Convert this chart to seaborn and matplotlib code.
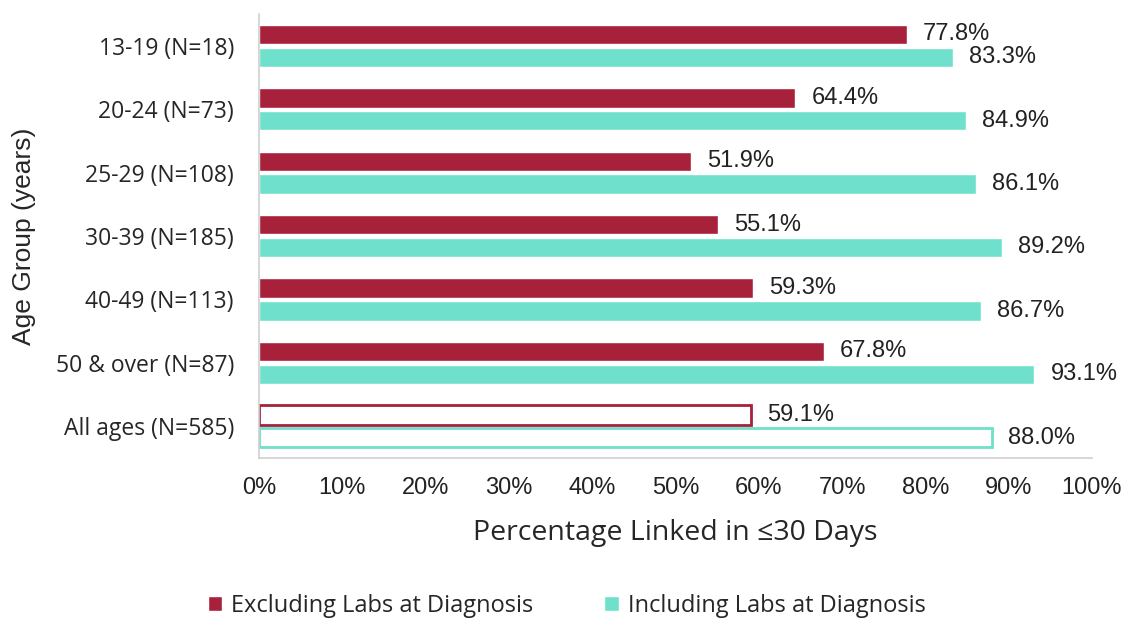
import pandas as pd
import seaborn as sns
import matplotlib.pyplot as plt

# data
age_groups = ['13-19 (N=18)', '20-24 (N=73)', '25-29 (N=108)', '30-39 (N=185)',
              '40-49 (N=113)', '50 & over (N=87)', 'All ages (N=585)']
excluding = [77.8, 64.4, 51.9, 55.1, 59.3, 67.8, 59.1]
including = [83.3, 84.9, 86.1, 89.2, 86.7, 93.1, 88.0]
series = ['Excluding Labs at Diagnosis', 'Including Labs at Diagnosis']
colors = ['#A8213A', '#6EE0CC']

df = pd.DataFrame({
    'group': age_groups * 2,
    'value': excluding + including,
    'series': [series[0]] * len(age_groups) + [series[1]] * len(age_groups),
})

sns.set_style('white')
plt.rcParams['font.family'] = ['Open Sans', 'DejaVu Sans']
arial = ['Liberation Sans', 'DejaVu Sans']

fig = plt.figure(figsize=(11.29, 6.18), dpi=100)
ax = fig.add_axes([0.2294, 0.259, 0.7378, 0.718])

sns.barplot(data=df, y='group', x='value', hue='series', palette=colors,
            saturation=1, orient='h', width=0.72, gap=0.15, ax=ax, legend=True)

# summary row drawn as outlined bars
for cont, col in zip(ax.containers, colors):
    last = cont.patches[-1]
    last.set_facecolor('white')
    last.set_edgecolor(col)
    last.set_linewidth(2)
    ax.bar_label(cont, fmt='%.1f%%', padding=11.5, fontsize=17,
                 color='#222222', family=arial)

ax.set_xlim(0, 100)
ax.set_ylim(6.5, -0.5)
ax.set_xticks(range(0, 101, 10))
ax.set_xticklabels([f'{t}%' for t in range(0, 101, 10)], fontsize=17,
                   family=arial, color='#222222')
ax.set_yticks(range(len(age_groups)))
ax.set_yticklabels(age_groups, fontsize=16.5)
ax.tick_params(axis='y', length=0, pad=18)
ax.tick_params(axis='x', length=7, width=1, color='#d0d0d0', direction='out', pad=7)
ax.set_xlabel('Percentage Linked in \u226430 Days', fontsize=20.5, va='center')
ax.xaxis.set_label_coords(0.5, -0.169)
ax.set_ylabel('Age Group (years)', fontsize=19, va='center', family=arial)
ax.yaxis.set_label_coords(-0.282, 0.5)

for side in ['top', 'right']:
    ax.spines[side].set_visible(False)
for side in ['left', 'bottom']:
    ax.spines[side].set_color('#d0d0d0')
    ax.spines[side].set_linewidth(1.2)

handles, labels = ax.get_legend_handles_labels()
ax.get_legend().remove()
fig.legend(handles, labels, loc='center', bbox_to_anchor=(0.502, 0.019), ncol=2,
           frameon=False, fontsize=17, handlelength=0.6, handleheight=0.6,
           handletextpad=0.4, columnspacing=3.0)

fig.savefig('out.png', dpi=100)
